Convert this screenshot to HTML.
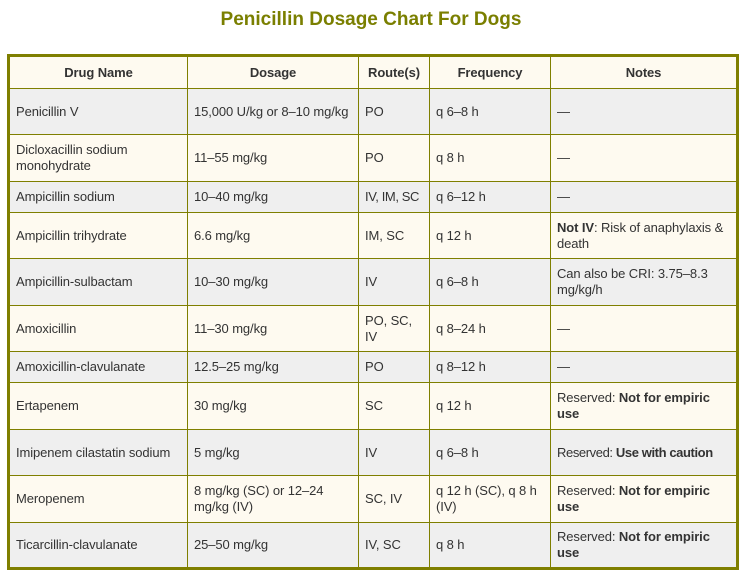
<!DOCTYPE html>
<html><head><meta charset="utf-8"><style>
body{margin:0;width:742px;height:576px;background:#fff;font-family:"Liberation Sans",sans-serif;position:relative;overflow:hidden}
h1{position:absolute;left:0;top:9px;width:742px;margin:0;text-align:center;font-size:19px;font-weight:bold;color:#7a7f00}
table{position:absolute;left:7px;top:54px;border-collapse:collapse;table-layout:fixed;border:3px solid #7f7f00;width:729px}
td,th{border:1px solid #7f7f00;padding:0 6px;font-size:13px;letter-spacing:-0.1px;color:#333;line-height:16px;text-align:left;vertical-align:middle}
th{text-align:center;font-weight:bold;background:#fefaf0;height:31px;color:#333}
tr.g td{background:#efefef}
tr.c td{background:#fefaf0}
b{color:#333}
</style></head><body>
<h1>Penicillin Dosage Chart For Dogs</h1>
<table>
<colgroup><col style="width:179px"><col style="width:171px"><col style="width:71px"><col style="width:121px"><col style="width:187px"></colgroup>
<tr><th>Drug Name</th><th>Dosage</th><th>Route(s)</th><th>Frequency</th><th>Notes</th></tr>
<tr class="g" style="height:46px"><td>Penicillin V</td><td>15,000 U/kg or 8–10 mg/kg</td><td>PO</td><td>q 6–8 h</td><td>—</td></tr>
<tr class="c" style="height:47px"><td>Dicloxacillin sodium monohydrate</td><td>11–55 mg/kg</td><td>PO</td><td>q 8 h</td><td>—</td></tr>
<tr class="g" style="height:31px"><td>Ampicillin sodium</td><td>10–40 mg/kg</td><td style="white-space:nowrap;letter-spacing:-0.4px">IV, IM, SC</td><td>q 6–12 h</td><td>—</td></tr>
<tr class="c" style="height:46px"><td>Ampicillin trihydrate</td><td>6.6 mg/kg</td><td>IM, SC</td><td>q 12 h</td><td><b>Not IV</b>: Risk of anaphylaxis &amp; death</td></tr>
<tr class="g" style="height:47px"><td>Ampicillin-sulbactam</td><td>10–30 mg/kg</td><td>IV</td><td>q 6–8 h</td><td>Can also be CRI: 3.75–8.3 mg/kg/h</td></tr>
<tr class="c" style="height:46px"><td>Amoxicillin</td><td>11–30 mg/kg</td><td>PO, SC, IV</td><td>q 8–24 h</td><td>—</td></tr>
<tr class="g" style="height:31px"><td>Amoxicillin-clavulanate</td><td>12.5–25 mg/kg</td><td>PO</td><td>q 8–12 h</td><td>—</td></tr>
<tr class="c" style="height:47px"><td>Ertapenem</td><td>30 mg/kg</td><td>SC</td><td>q 12 h</td><td>Reserved: <b>Not for empiric use</b></td></tr>
<tr class="g" style="height:46px"><td>Imipenem cilastatin sodium</td><td>5 mg/kg</td><td>IV</td><td>q 6–8 h</td><td style="white-space:nowrap;letter-spacing:-0.4px">Reserved: <b>Use with caution</b></td></tr>
<tr class="c" style="height:47px"><td>Meropenem</td><td>8 mg/kg (SC) or 12–24 mg/kg (IV)</td><td>SC, IV</td><td>q 12 h (SC), q 8 h (IV)</td><td>Reserved: <b>Not for empiric use</b></td></tr>
<tr class="g" style="height:46px"><td>Ticarcillin-clavulanate</td><td>25–50 mg/kg</td><td>IV, SC</td><td>q 8 h</td><td>Reserved: <b>Not for empiric use</b></td></tr>
</table>
</body></html>
